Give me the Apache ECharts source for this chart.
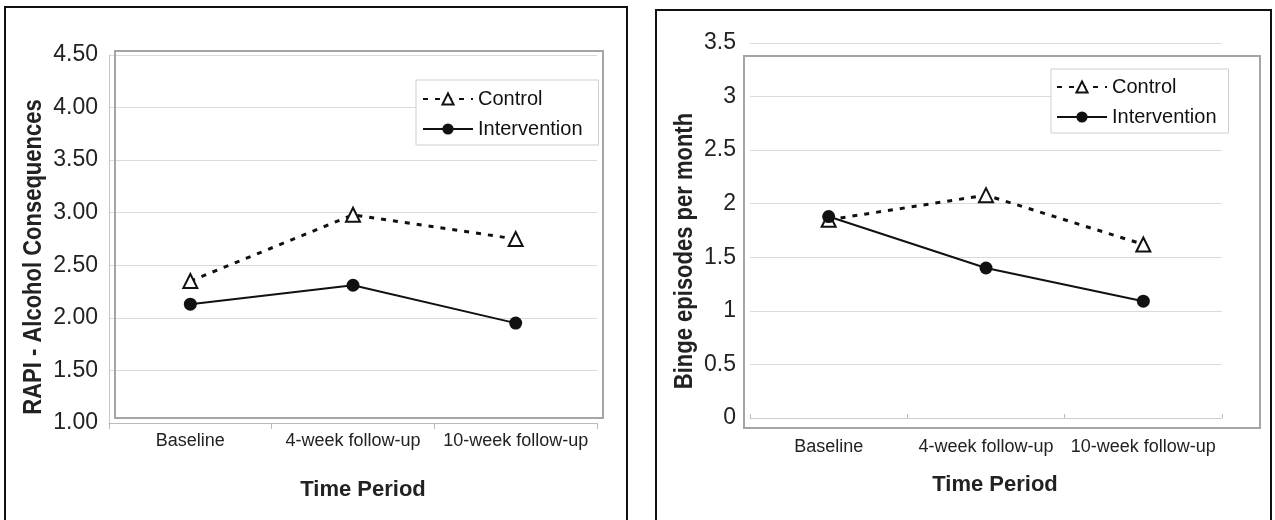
<!DOCTYPE html>
<html><head><meta charset="utf-8">
<script src="https://cdn.jsdelivr.net/npm/echarts@6/dist/echarts.min.js"></script>
<style>html,body{margin:0;padding:0;background:#fff}#c{width:1275px;height:520px}</style>
</head><body><div id="c"></div>
<script>
const categories = ['Baseline', '4-week follow-up', '10-week follow-up'];
const seriesNames = ['Control', 'Intervention'];
const rapiControl = [2.35, 2.98, 2.75];
const rapiIntervention = [2.13, 2.31, 1.95];
const bingeControl = [1.85, 2.08, 1.62];
const bingeIntervention = [1.88, 1.40, 1.09];
const rapiTitle = 'RAPI - Alcohol Consequences';
const bingeTitle = 'Binge episodes per month';
const xTitle = 'Time Period';

const FONT = '"Liberation Sans", Arial, sans-serif';
const chart = echarts.init(document.getElementById('c'), null, {renderer: 'canvas'});

function controlSeries(idx, data) {
  return {
    name: seriesNames[0], type: 'line', xAxisIndex: idx, yAxisIndex: idx, data: data,
    symbol: 'triangle', symbolSize: 14, showSymbol: true,
    itemStyle: {color: '#fff', borderColor: '#111', borderWidth: 2},
    lineStyle: {color: '#111', width: 3, type: [5, 7]},
    z: 3, animation: false
  };
}
function interventionSeries(idx, data) {
  return {
    name: seriesNames[1], type: 'line', xAxisIndex: idx, yAxisIndex: idx, data: data,
    symbol: 'circle', symbolSize: 13, showSymbol: true,
    itemStyle: {color: '#111', borderColor: '#111', borderWidth: 0},
    lineStyle: {color: '#111', width: 2},
    z: 4, animation: false
  };
}
function legend(left, top, padding) {
  return {
    orient: 'vertical', left: left, top: top, padding: padding,
    data: seriesNames, itemWidth: 50, itemHeight: 14, itemGap: 10,
    backgroundColor: '#fff', borderColor: '#cfcfcf', borderWidth: 1,
    textStyle: {fontFamily: FONT, fontSize: 20, color: '#111'},
    selectedMode: false
  };
}

const option = {
  backgroundColor: '#fff',
  animation: false,
  grid: [
    {left: 109, top: 55, width: 488, height: 368},
    {left: 750, top: 43, width: 472, height: 375}
  ],
  xAxis: [
    {type: 'category', gridIndex: 0, data: categories, boundaryGap: true,
     axisLine: {show: true, lineStyle: {color: '#bbb', width: 1}},
     axisTick: {show: true, length: 6, lineStyle: {color: '#bbb'}},
     axisLabel: {fontFamily: FONT, fontSize: 18, color: '#222', margin: 9, interval: 0}},
    {type: 'category', gridIndex: 1, data: categories, boundaryGap: true,
     axisLine: {show: true, lineStyle: {color: '#ccc', width: 1}},
     axisTick: {show: true, length: 4, inside: true, lineStyle: {color: '#bbb'}},
     axisLabel: {fontFamily: FONT, fontSize: 18, color: '#222', margin: 20, interval: 0}}
  ],
  yAxis: [
    {type: 'value', gridIndex: 0, min: 1, max: 4.5, interval: 0.5,
     axisLine: {show: true, lineStyle: {color: '#c8c8c8'}},
     axisTick: {show: false},
     splitLine: {show: true, lineStyle: {color: '#dadada', width: 1}},
     axisLabel: {fontFamily: FONT, fontSize: 23, color: '#222', margin: 11,
                 formatter: v => v.toFixed(2)}},
    {type: 'value', gridIndex: 1, min: 0, max: 3.5, interval: 0.5,
     axisLine: {show: false},
     axisTick: {show: false},
     splitLine: {show: true, lineStyle: {color: '#dadada', width: 1}},
     axisLabel: {fontFamily: FONT, fontSize: 23, color: '#222', margin: 14}}
  ],
  legend: [
    legend(416, 80, [9, 16, 6, 6]),
    legend(1051, 69, [8, 12, 6, 5])
  ],
  series: [
    controlSeries(0, rapiControl),
    interventionSeries(0, rapiIntervention),
    controlSeries(1, bingeControl),
    interventionSeries(1, bingeIntervention)
  ],
  graphic: [
    {type: 'rect', shape: {x: 5, y: 7, width: 622, height: 530}, style: {fill: null, stroke: '#111', lineWidth: 2}, z: 1},
    {type: 'rect', shape: {x: 656, y: 10, width: 615, height: 530}, style: {fill: null, stroke: '#111', lineWidth: 2}, z: 1},
    {type: 'rect', shape: {x: 115, y: 51, width: 488, height: 367}, style: {fill: null, stroke: '#a5a5a5', lineWidth: 2}, z: 1},
    {type: 'rect', shape: {x: 744, y: 56, width: 516, height: 372}, style: {fill: null, stroke: '#a5a5a5', lineWidth: 2}, z: 1},
    {type: 'text', x: 34, y: 257, rotation: Math.PI / 2, scaleY: 1.15,
     style: {text: rapiTitle, font: 'bold 22px ' + FONT, fill: '#222', align: 'center', verticalAlign: 'middle'}, z: 5},
    {type: 'text', x: 685, y: 251, rotation: Math.PI / 2, scaleY: 1.15,
     style: {text: bingeTitle, font: 'bold 22px ' + FONT, fill: '#222', align: 'center', verticalAlign: 'middle'}, z: 5},
    {type: 'text', x: 363, y: 490,
     style: {text: xTitle, font: 'bold 22px ' + FONT, fill: '#222', align: 'center', verticalAlign: 'middle'}, z: 5},
    {type: 'text', x: 995, y: 485,
     style: {text: xTitle, font: 'bold 22px ' + FONT, fill: '#222', align: 'center', verticalAlign: 'middle'}, z: 5}
  ]
};
chart.setOption(option);
</script>
</body></html>
